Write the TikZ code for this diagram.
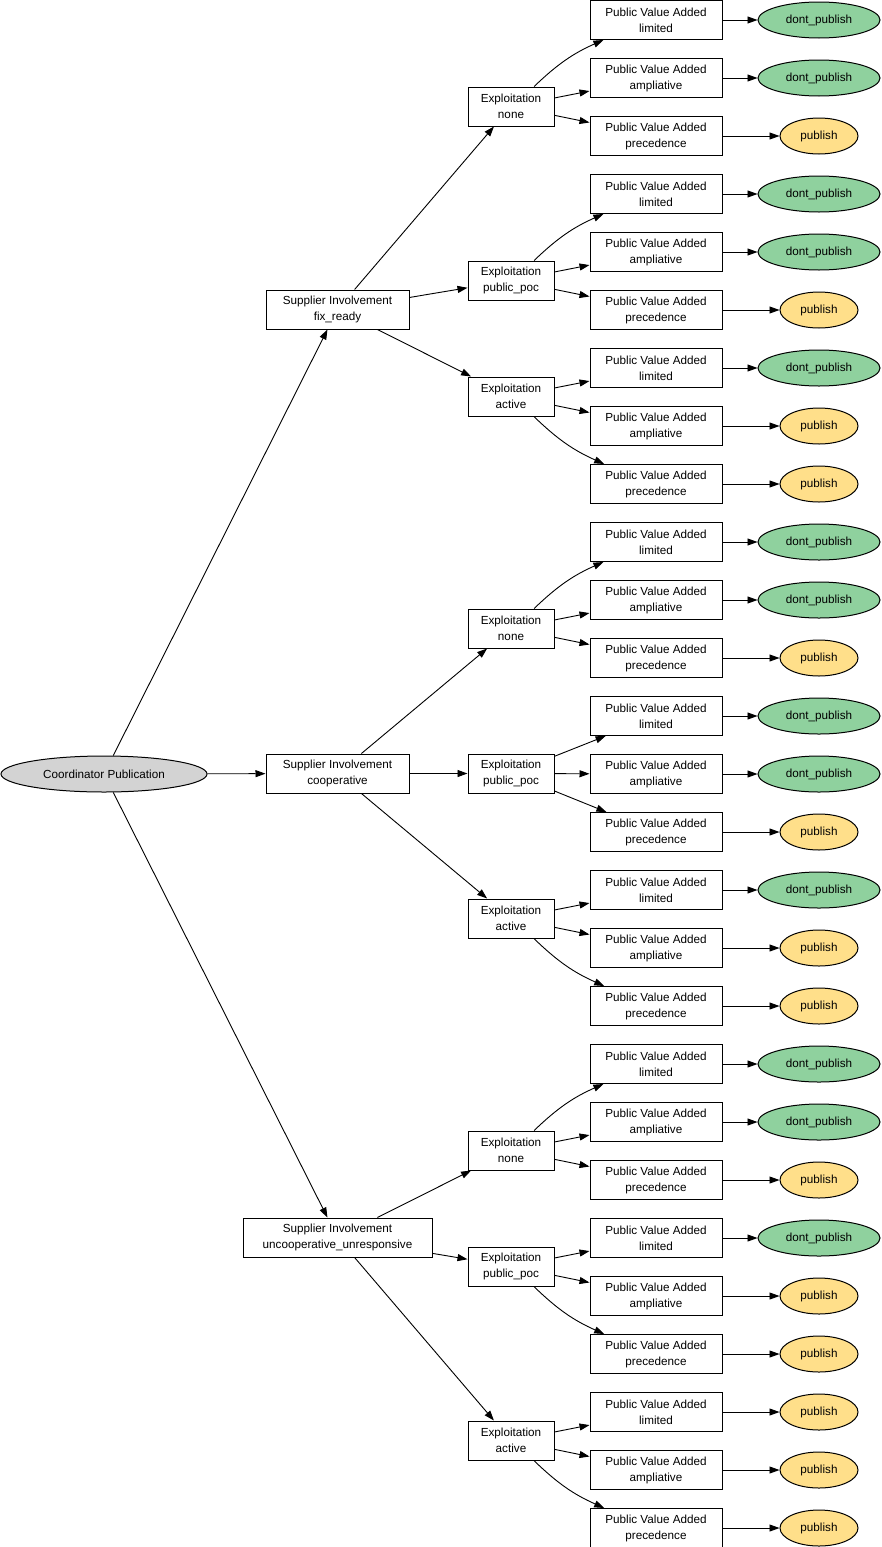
\documentclass[tikz,border=0pt]{standalone}
\usepackage{fontspec}
\setmainfont{Liberation Sans}
\usetikzlibrary{arrows.meta, shapes.geometric}
\definecolor{Ink}{HTML}{000000}
\definecolor{RootGray}{HTML}{D3D3D3}
\definecolor{NoGreen}{HTML}{8FD19E}
\definecolor{YesYellow}{HTML}{FFDF8A}
\newcommand{\labelfont}{\fontsize{11.7}{16}\selectfont}
\tikzset{
    rootnode/.style={ellipse, draw=Ink, fill=RootGray, line width=1pt, inner sep=0pt, minimum width=206pt, minimum height=36pt, font=\labelfont},
    choicenode/.style={rectangle, draw=Ink, fill=white, line width=1pt, align=center, inner sep=0pt, minimum height=39pt, font=\labelfont},
    dontleaf/.style={ellipse, draw=Ink, fill=NoGreen, line width=1pt, inner sep=0pt, minimum width=122pt, minimum height=36pt, font=\labelfont, /utils/exec={\def\leaftext{dont\_publish}}},
    publeaf/.style={ellipse, draw=Ink, fill=YesYellow, line width=1pt, inner sep=0pt, minimum width=78pt, minimum height=36pt, font=\labelfont, /utils/exec={\def\leaftext{publish}}},
    arrow/.style={-{Triangle[length=10pt, width=7pt]}, line width=0.9pt, color=Ink},
}

\begin{document}
\begin{tikzpicture}[x=1pt, y=1pt]
    \useasboundingbox (0,0) rectangle (881,-1547);

    % Root
    \node[rootnode] (root) at (104,-774) {Coordinator Publication};

    % Supplier involvement
    \node[choicenode, minimum width=143pt] (fix) at (337.5,-309.5) {Supplier Involvement\\fix\_ready};
    \node[choicenode, minimum width=143pt] (coop) at (337.5,-773.5) {Supplier Involvement\\cooperative};
    \node[choicenode, minimum width=189pt] (uncoop) at (337.5,-1237.5) {Supplier Involvement\\uncooperative\_unresponsive};
    \foreach \s in {fix, coop, uncoop}
        \draw[arrow] (root) -- (\s);

    % Exploitation, value added and outcome
    \foreach \e/\up/\ye/\lab/\ytop/\ra/\rb/\rc in {
        fixnone/fix/106.5/none/20/dontleaf/dontleaf/publeaf,
        fixpoc/fix/280.5/public\_poc/194/dontleaf/dontleaf/publeaf,
        fixactive/fix/396.5/active/368/dontleaf/publeaf/publeaf,
        coopnone/coop/628.5/none/542/dontleaf/dontleaf/publeaf,
        cooppoc/coop/773.5/public\_poc/716/dontleaf/dontleaf/publeaf,
        coopactive/coop/918.5/active/890/dontleaf/publeaf/publeaf,
        uncoopnone/uncoop/1150.5/none/1064/dontleaf/dontleaf/publeaf,
        uncooppoc/uncoop/1266.5/public\_poc/1238/dontleaf/publeaf/publeaf,
        uncoopactive/uncoop/1440.5/active/1412/publeaf/publeaf/publeaf} {
        \node[choicenode, minimum width=86pt] (\e) at (511,-\ye) {Exploitation\\\lab};
        \draw[arrow] (\up) -- (\e);
        \foreach \pv/\i/\res in {limited/0/\ra, ampliative/1/\rb, precedence/2/\rc} {
            \pgfmathsetmacro\yc{\ytop+58*\i}
            \pgfmathsetmacro\bnd{((\yc-\ye)<(-80))*10-((\yc-\ye)>80)*10}
            \node[choicenode, minimum width=132pt] (\e\pv) at (656,-\yc) {Public Value Added\\\pv};
            \draw[arrow] (\e) to[bend left=\bnd] (\e\pv);
            \node[\res] (\e\pv-out) at (819,-\yc) {\leaftext};
            \draw[arrow] (\e\pv) -- (\e\pv-out);
        }
    }
\end{tikzpicture}
\end{document}
